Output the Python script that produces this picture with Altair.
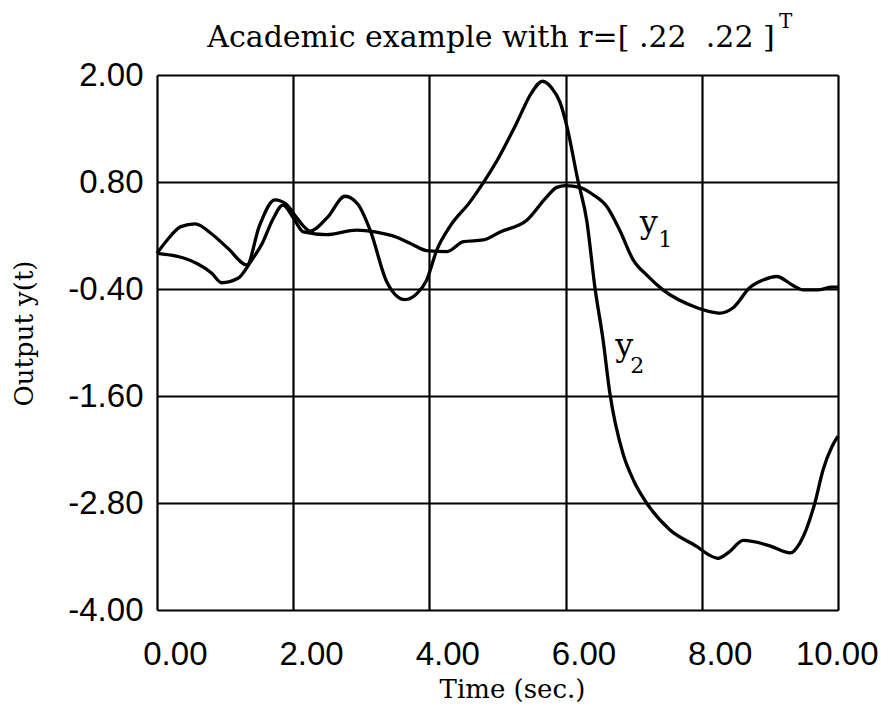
import altair as alt
import pandas as pd

# y1 trace (time in sec., output)
t1 = [0, 0.2, 0.38, 0.6, 0.8, 0.95, 1.19, 1.37, 1.55, 1.7, 1.85, 2.0, 2.15, 2.49, 2.93, 3.2, 3.52, 3.75,
      3.96, 4.26, 4.5, 4.79, 5.04, 5.43, 5.72, 5.87, 6.0, 6.21, 6.4, 6.61, 6.8, 6.99, 7.2, 7.43, 7.93,
      8.1, 8.27, 8.46, 8.71, 8.9, 9.1, 9.34, 9.49, 9.7, 9.91, 10.0]
y1 = [0.0, -0.02, -0.05, -0.12, -0.22, -0.33, -0.28, -0.10, 0.12, 0.38, 0.54, 0.40, 0.24, 0.21, 0.26, 0.24,
      0.18, 0.10, 0.03, 0.02, 0.13, 0.15, 0.24, 0.37, 0.63, 0.74, 0.76, 0.74, 0.66, 0.52, 0.25, -0.07,
      -0.25, -0.41, -0.61, -0.65, -0.67, -0.61, -0.38, -0.30, -0.26, -0.36, -0.41, -0.41, -0.38, -0.38]

# y2 trace
t2 = [0, 0.15, 0.35, 0.56, 0.8, 1.05, 1.32, 1.5, 1.73, 1.9, 2.05, 2.25, 2.5, 2.76, 2.95, 3.13, 3.38, 3.64,
      3.82, 3.96, 4.11, 4.3, 4.6, 4.79, 5.0, 5.28, 5.5, 5.66, 5.8, 5.92, 6.02, 6.18, 6.31, 6.43, 6.55,
      6.65, 6.84, 7.0, 7.19, 7.53, 7.93, 8.1, 8.24, 8.4, 8.61, 9.0, 9.3, 9.44, 9.66, 9.78, 9.91, 10.0]
y2 = [0.0, 0.15, 0.30, 0.33, 0.22, 0.05, -0.13, 0.30, 0.60, 0.55, 0.40, 0.25, 0.40, 0.64, 0.55, 0.26,
      -0.33, -0.52, -0.45, -0.30, 0.04, 0.30, 0.58, 0.79, 1.05, 1.46, 1.80, 1.93, 1.85, 1.69, 1.42, 0.82,
      0.37, -0.38, -0.97, -1.57, -2.24, -2.55, -2.80, -3.10, -3.29, -3.38, -3.42, -3.35, -3.22, -3.28,
      -3.36, -3.25, -2.80, -2.43, -2.17, -2.05]

x_ticks = [0, 2, 4, 6, 8, 10]
y_ticks = [-4.0, -2.8, -1.6, -0.4, 0.8, 2.0]

# curve labels: letter and subscript, anchored in data units
lab_main = ["y", "y"]
lab_main_x = [7.09, 6.73]
lab_main_y = [0.23, -1.15]
lab_sub = ["1", "2"]
lab_sub_x = [7.36, 6.95]
lab_sub_y = [0.07, -1.34]

title_text = ["Academic example with r=[ .22\u00a0\u00a0.22 ]"]
title_sup = ["T"]

df = pd.concat([
    pd.DataFrame({"t": t1, "y": y1, "s": "y1"}),
    pd.DataFrame({"t": t2, "y": y2, "s": "y2"}),
])
df_main = pd.DataFrame({"txt": lab_main, "t": lab_main_x, "y": lab_main_y})
df_sub = pd.DataFrame({"txt": lab_sub, "t": lab_sub_x, "y": lab_sub_y})
df_title = pd.DataFrame({"txt": title_text})
df_sup = pd.DataFrame({"txt": title_sup})

SERIF = "DejaVu Serif"
SANS = "Liberation Sans"

xscale = alt.Scale(domain=[0, 10], nice=False, zero=False)
yscale = alt.Scale(domain=[-4, 2], nice=False, zero=False)

x_enc = alt.X("t:Q", scale=xscale, axis=alt.Axis(
    values=x_ticks, format=".2f", grid=True, gridColor="black", gridWidth=2.2, gridOpacity=1,
    domain=False, ticks=False, labelFont=SANS, labelFontSize=33, labelColor="black",
    labelAlign="right",
    labelOffset={"condition": {"test": "datum.value == 10", "value": 40}, "value": 50},
    labelPadding=28, labelBaseline="top",
    title="Time (sec.)", titleFont=SERIF, titleFontSize=26, titleFontWeight="normal",
    titleColor="black", titleX=355, titleY=87, titleBaseline="alphabetic", titleAlign="center"))

y_enc = alt.Y("y:Q", scale=yscale, axis=alt.Axis(
    values=y_ticks, grid=True, gridColor="black", gridWidth=2.2, gridOpacity=1,
    domain=False, ticks=False, labelFont=SANS, labelFontSize=33, labelColor="black",
    labelAlign="right", labelPadding=14, labelBaseline="middle",
    labelExpr="datum.value < 0 ? '-' + format(abs(datum.value), '.2f') : format(datum.value, '.2f')",
    title="Output y(t)", titleFont=SERIF, titleFontSize=26, titleFontWeight="normal",
    titleColor="black", titleAngle=-90, titleX=-125, titleY=258, titleBaseline="alphabetic",
    titleAlign="center"))

lines = alt.Chart(df).mark_line(color="black", strokeWidth=3.3, interpolate="monotone").encode(
    x=x_enc, y=y_enc, detail="s:N")

main_txt = alt.Chart(df_main).mark_text(
    font=SERIF, fontSize=32, align="left", baseline="alphabetic", color="black").encode(
    x=alt.X("t:Q", scale=xscale), y=alt.Y("y:Q", scale=yscale), text="txt:N")

sub_txt = alt.Chart(df_sub).mark_text(
    font=SERIF, fontSize=22, align="left", baseline="alphabetic", color="black").encode(
    x=alt.X("t:Q", scale=xscale), y=alt.Y("y:Q", scale=yscale), text="txt:N")

title_txt = alt.Chart(df_title).mark_text(
    font=SERIF, fontSize=30, align="center", baseline="alphabetic", color="black").encode(
    x=alt.value(334), y=alt.value(-28), text="txt:N")

sup_txt = alt.Chart(df_sup).mark_text(
    font=SERIF, fontSize=20, align="left", baseline="alphabetic", color="black").encode(
    x=alt.value(622), y=alt.value(-47), text="txt:N")

chart = alt.layer(lines, main_txt, sub_txt, title_txt, sup_txt).properties(
    width=681, height=535,
    padding={"left": 149, "top": 67, "right": 43, "bottom": 93},
    autosize=alt.AutoSizeParams(type="none"),
).configure_view(stroke="black", strokeWidth=2.5).configure(background="white")

chart.save("out.html", embed_options={"renderer": "svg", "actions": False})
